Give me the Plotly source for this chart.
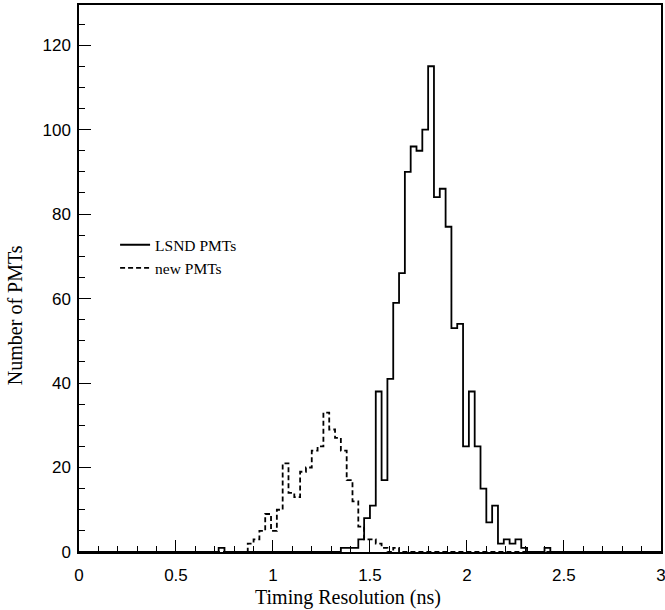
import plotly.graph_objects as go

# Histogram binning (0 to 3 ns, 0.03 ns bins)
bin_width = 0.03
n_bins = 100
bin_edges = [round(i * bin_width, 2) for i in range(n_bins + 1)]

# LSND PMTs (solid)
lsnd_counts = [
    0, 0, 0, 0, 0, 0, 0, 0, 0, 0,          # 0.00-0.27
    0, 0, 0, 0, 0, 0, 0, 0, 0, 0,          # 0.30-0.57
    0, 0, 0, 0, 1, 0, 0, 0, 0, 0,          # 0.60-0.87
    0, 0, 0, 0, 0, 0, 0, 0, 0, 0,          # 0.90-1.17
    0, 0, 0, 0, 0, 1, 1, 1, 3, 8,          # 1.20-1.47
    11, 38, 17, 41, 59, 66, 90, 96, 95, 100,  # 1.50-1.77
    115, 84, 86, 77, 53, 54, 25, 38, 25, 15,  # 1.80-2.07
    7, 11, 2, 3, 2, 3, 1, 0, 0, 0,         # 2.10-2.37
    1, 0, 0, 0, 0, 0, 0, 0, 0, 0,          # 2.40-2.67
    0, 0, 0, 0, 0, 0, 0, 0, 0, 0,          # 2.70-2.97
]

# new PMTs (dashed)
new_counts = [
    0, 0, 0, 0, 0, 0, 0, 0, 0, 0,          # 0.00-0.27
    0, 0, 0, 0, 0, 0, 0, 0, 0, 0,          # 0.30-0.57
    0, 0, 0, 0, 0, 0, 0, 0, 0, 2,          # 0.60-0.87
    3, 5, 9, 5, 10, 21, 14, 13, 19, 20,    # 0.90-1.17
    24, 25, 33, 29, 27, 24, 17, 12, 6, 3,  # 1.20-1.47
    3, 2, 1, 0, 1, 0, 0, 0, 0, 0,          # 1.50-1.77
    0, 0, 0, 0, 0, 0, 0, 0, 0, 0,          # 1.80-2.07
    0, 0, 0, 0, 0, 0, 0, 0, 0, 0,          # 2.10-2.37
    0, 0, 0, 0, 0, 0, 0, 0, 0, 0,          # 2.40-2.67
    0, 0, 0, 0, 0, 0, 0, 0, 0, 0,          # 2.70-2.97
]

x_tickvals = [0, 0.5, 1, 1.5, 2, 2.5, 3]
x_ticktext = ["0", "0.5", "1", "1.5", "2", "2.5", "3"]

x_title = "Timing Resolution (ns)"
y_title = "Number of PMTs"

serif = "Liberation Serif, Times New Roman, serif"
sans = "Liberation Sans, Arial, Helvetica, sans-serif"

fig = go.Figure()
fig.add_trace(go.Scatter(
    x=bin_edges, y=lsnd_counts + [lsnd_counts[-1]],
    mode="lines", line=dict(shape="hv", color="black", width=1.8),
    name="LSND PMTs",
))
fig.add_trace(go.Scatter(
    x=bin_edges, y=new_counts + [new_counts[-1]],
    mode="lines", line=dict(shape="hv", color="black", width=1.8, dash="5px,3px"),
    name="new PMTs",
))

fig.update_layout(
    width=665, height=610,
    margin=dict(l=79, r=4, t=5, b=58, autoexpand=False),
    plot_bgcolor="white", paper_bgcolor="white",
    showlegend=True,
    legend=dict(
        x=0.062, y=0.592, xanchor="left", yanchor="top",
        font=dict(family=serif, size=15.5, color="black"),
        bgcolor="rgba(0,0,0,0)", borderwidth=0,
        tracegroupgap=6, traceorder="normal",
    ),
    xaxis=dict(
        range=[0, 3.0005], tickvals=x_tickvals, ticktext=x_ticktext,
        ticks="inside", ticklen=12, tickwidth=1, tickcolor="black",
        minor=dict(dtick=0.1, tick0=0, ticks="inside", ticklen=6, tickcolor="black"),
        showline=True, linecolor="black", linewidth=1.5, mirror=True,
        showgrid=False, zeroline=False, automargin=False,
        ticklabeloverflow="allow", ticklabelstandoff=7,
        tickfont=dict(family=sans, size=17, color="black"),
    ),
    yaxis=dict(
        range=[0, 129.5], dtick=20, tick0=0,
        ticks="inside", ticklen=12, tickwidth=1, tickcolor="black",
        minor=dict(dtick=5, ticks="inside", ticklen=6, tickcolor="black"),
        showline=True, linecolor="black", linewidth=1.5, mirror=True,
        showgrid=False, zeroline=False, automargin=False,
        ticklabeloverflow="allow", ticklabelstandoff=3,
        tickfont=dict(family=sans, size=17, color="black"),
    ),
    annotations=[
        dict(text=x_title, xref="paper", yref="paper", x=0.462, y=-0.084,
             xanchor="center", yanchor="middle", showarrow=False,
             font=dict(family=serif, size=20, color="black")),
        dict(text=y_title, xref="paper", yref="paper", x=-0.11, y=0.433,
             xanchor="center", yanchor="middle", showarrow=False, textangle=-90,
             font=dict(family=serif, size=20, color="black")),
    ],
)

fig.write_html(
    "out.html",
    config={"displayModeBar": False},
    post_script="document.body.style.margin='0';document.body.style.overflow='hidden';",
)
